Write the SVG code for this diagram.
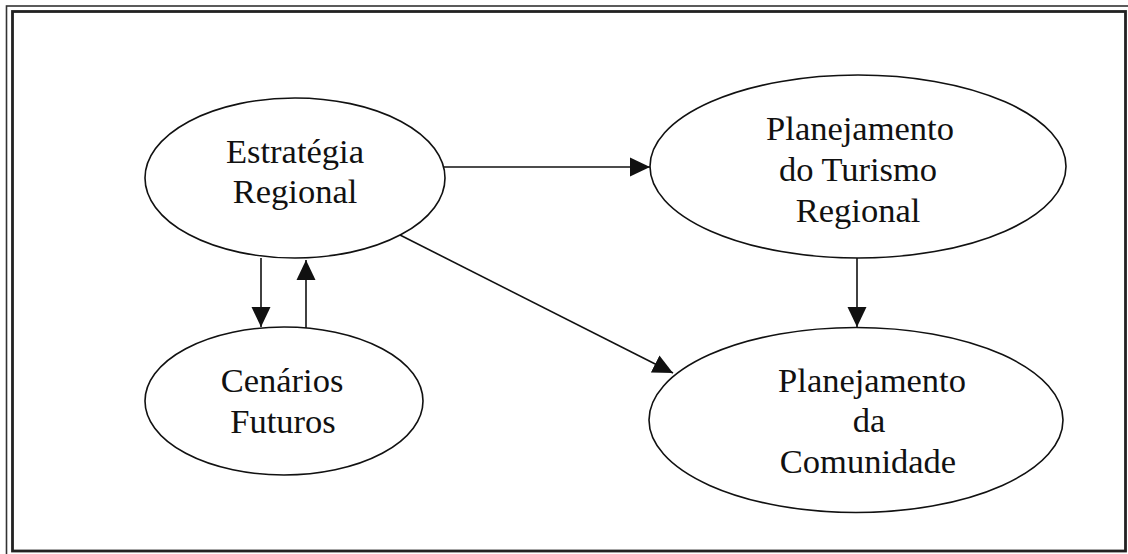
<svg xmlns="http://www.w3.org/2000/svg" width="1128" height="554" viewBox="0 0 1128 554">
<style>
.frame-outer{fill:none;stroke:#333;stroke-width:1.6}
.frame-inner{fill:none;stroke:#222;stroke-width:2.8}
.node ellipse{fill:#fff;stroke:#111;stroke-width:1.6}
.node text{font-family:"Liberation Serif","Times New Roman",serif;font-size:34.5px;fill:#111;text-anchor:middle}
.edge{fill:none;stroke:#111;stroke-width:1.6;marker-end:url(#arr)}
</style>
<defs>
<marker id="arr" markerUnits="userSpaceOnUse" markerWidth="20" markerHeight="20" viewBox="0 0 20 19" refX="20" refY="9.5" orient="auto">
<path d="M0,0 L20,9.5 L0,19 z" fill="#111"/>
</marker>
</defs>
<rect width="1128" height="554" fill="#fff"/>
<rect class="frame-outer" x="6.5" y="6" width="1140" height="560"/>
<rect class="frame-inner" x="12.5" y="11.5" width="1113" height="539.5"/>

<g id="estrategia" class="node">
<ellipse cx="295" cy="178" rx="150" ry="80"/>
<text x="295" y="163">Estratégia</text>
<text x="295" y="203">Regional</text>
</g>
<g id="cenarios" class="node">
<ellipse cx="284" cy="401" rx="139" ry="74"/>
<text x="282" y="392">Cenários</text>
<text x="283" y="433">Futuros</text>
</g>
<g id="turismo" class="node">
<ellipse cx="858" cy="166.5" rx="208" ry="91.5"/>
<text x="860" y="140">Planejamento</text>
<text x="858" y="181">do Turismo</text>
<text x="858" y="222">Regional</text>
</g>
<g id="comunidade" class="node">
<ellipse cx="856" cy="420" rx="207" ry="92.5"/>
<text x="872" y="392">Planejamento</text>
<text x="869" y="432">da</text>
<text x="868" y="473">Comunidade</text>
</g>

<g id="connectors">
<line class="edge" x1="444" y1="167" x2="650" y2="167"/>
<line class="edge" x1="400" y1="235" x2="673" y2="373"/>
<line class="edge" x1="261" y1="258" x2="261" y2="327"/>
<line class="edge" x1="306" y1="328" x2="306" y2="260"/>
<line class="edge" x1="857" y1="258" x2="857" y2="327"/>
</g>
</svg>
